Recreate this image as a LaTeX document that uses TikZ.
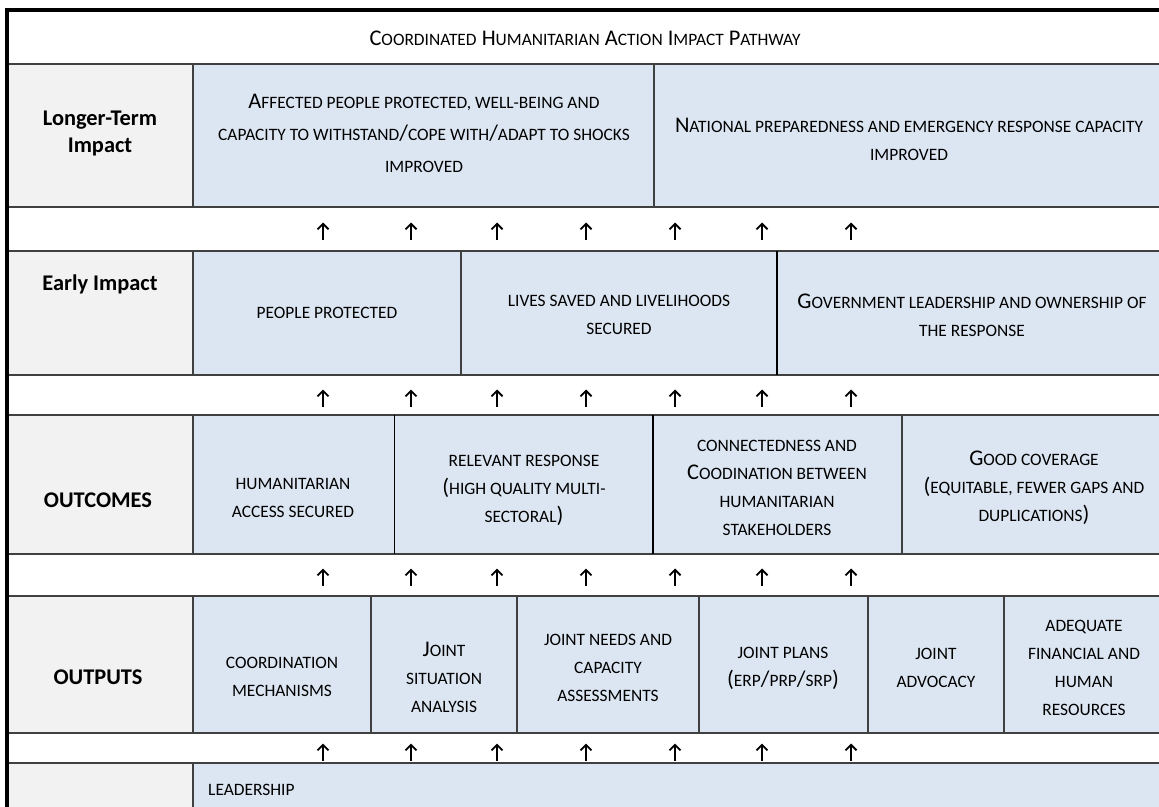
\documentclass[tikz,border=0pt]{standalone}
\usepackage{fontspec}
\setmainfont{Carlito}
\usetikzlibrary{arrows.meta}
\definecolor{celdaazul}{HTML}{DCE6F2}
\definecolor{celdagris}{HTML}{F2F2F2}
\definecolor{linea}{HTML}{404040}
% versalitas simuladas
\newcommand{\vers}[2][17.4]{{\fontsize{#1}{28}\selectfont\MakeUppercase{#2}}}
\begin{document}
\begin{tikzpicture}[x=1pt, y=-1pt,
    etiqueta/.style={font=\fontsize{22.4}{27}\selectfont\bfseries, align=center, inner sep=0pt},
    texto/.style={font=\fontsize{22.4}{28}\selectfont, align=center, inner sep=0pt},
    flecha/.style={-{Straight Barb[length=5.5pt,width=11pt]}, line width=1.8pt},
    rejilla/.style={linea, line width=2.7pt}]
                \clip (0,0) rectangle (1159,806);

                % Fondos de las celdas
                \foreach \ya/\yb in {64/207, 251/375, 415/554, 596/733, 763/810} {
                    \fill[celdagris] (7,\ya) rectangle (193,\yb);
                    \fill[celdaazul] (193,\ya) rectangle (1170,\yb);
                }

                % Lineas horizontales entre filas
                \foreach \y in {64, 207, 251, 375, 415, 554, 596, 733, 763}
                    \draw[rejilla] (7,\y) -- (1170,\y);

                % Borde de la columna de etiquetas
                \foreach \ya/\yb in {64/207, 251/375, 415/554, 596/733, 763/810}
                    \draw[rejilla] (193,\ya) -- (193,\yb);

                % Separaciones dentro de cada fila
                \draw[rejilla] (654,64) -- (654,207);
                \draw[rejilla] (461,251) -- (461,375);
                \draw[black, line width=2pt] (777,251) -- (777,375);
                \draw[black, line width=1pt] (394,415) -- (394,554);
                \draw[black, line width=2pt] (653,415) -- (653,554);
                \draw[rejilla] (902,415) -- (902,554);
                \foreach \x in {371, 517, 699, 868, 1004}
                    \draw[rejilla] (\x,596) -- (\x,733);

                % Borde exterior
                \draw[black, line width=3.5pt] (5.25,10) -- (1170,10);
                \draw[black, line width=3.5pt] (7,10) -- (7,810);

                % Titulo
                \node[texto] (titulo) at (585,38)
                    {C\vers{oordinated} H\vers{umanitarian} A\vers{ction} I\vers{mpact} P\vers{athway}};

                % Etiquetas de las filas
                \node[etiqueta] (largo) at (100,133) {Longer-Term\\Impact};
                \node[etiqueta] (temprano) at (100,284) {Early Impact};
                \node[etiqueta] (resultados) at (98,500) {OUTCOMES};
                \node[etiqueta] (productos) at (98,677) {OUTPUTS};

                % Impacto a largo plazo
                \node[texto, font=\fontsize{22.4}{32}\selectfont] (afectados) at (424,133)
                    {A\vers{ffected people protected, well-being and}\\\vers{capacity to withstand}/\vers{cope with}/\vers{adapt to shocks}\\\vers{improved}};
                \node[texto] (nacional) at (909,139)
                    {N\vers{ational preparedness and emergency response capacity}\\\vers{improved}};

                % Impacto temprano
                \node[texto] (protegidas) at (327,313) {\vers{people protected}};
                \node[texto] (vidas) at (619,315) {\vers{lives saved and livelihoods}\\\vers{secured}};
                \node[texto] (gobierno) at (972,315) {G\vers{overnment leadership and ownership of}\\\vers{the response}};

                % Resultados
                \node[texto] (acceso) at (293,498) {\vers{humanitarian}\\\vers{access secured}};
                \node[texto] (pertinente) at (524,490) {\vers{relevant response}\\(\vers{high quality multi-}\\\vers{sectoral})};
                \node[texto] (conexion) at (777,488) {\vers{connectedness and}\\C\vers{oodination between}\\\vers{humanitarian}\\\vers{stakeholders}};
                \node[texto] (cobertura) at (1034,488) {G\vers{ood coverage}\\(\vers{equitable, fewer gaps and}\\\vers{duplications})};

                % Productos
                \node[texto] (mecanismos) at (282,677) {\vers{coordination}\\\vers{mechanisms}};
                \node[texto] (situacion) at (444,677) {J\vers{oint}\\\vers{situation}\\\vers{analysis}};
                \node[texto] (necesidades) at (608,668) {\vers{joint needs and}\\\vers{capacity}\\\vers{assessments}};
                \node[texto] (planes) at (783,668) {\vers{joint plans}\\(\vers{erp}/\vers{prp}/\vers{srp})};
                \node[texto] (incidencia) at (936,668) {\vers{joint}\\\vers{advocacy}};
                \node[texto] (recursos) at (1084,668) {\vers{adequate}\\\vers{financial and}\\\vers{human}\\\vers{resources}};

                % Liderazgo
                \node[texto, anchor=west] (liderazgo) at (208,790) {\vers{leadership}};

                % Flechas entre filas
                \foreach \y in {231, 398, 577, 752}
                    \foreach \x in {323, 411, 497, 586, 675, 762, 851}
                        \draw[flecha] (\x,\y+8.5) -- (\x,\y-8.5);

            \end{tikzpicture}
\end{document}
